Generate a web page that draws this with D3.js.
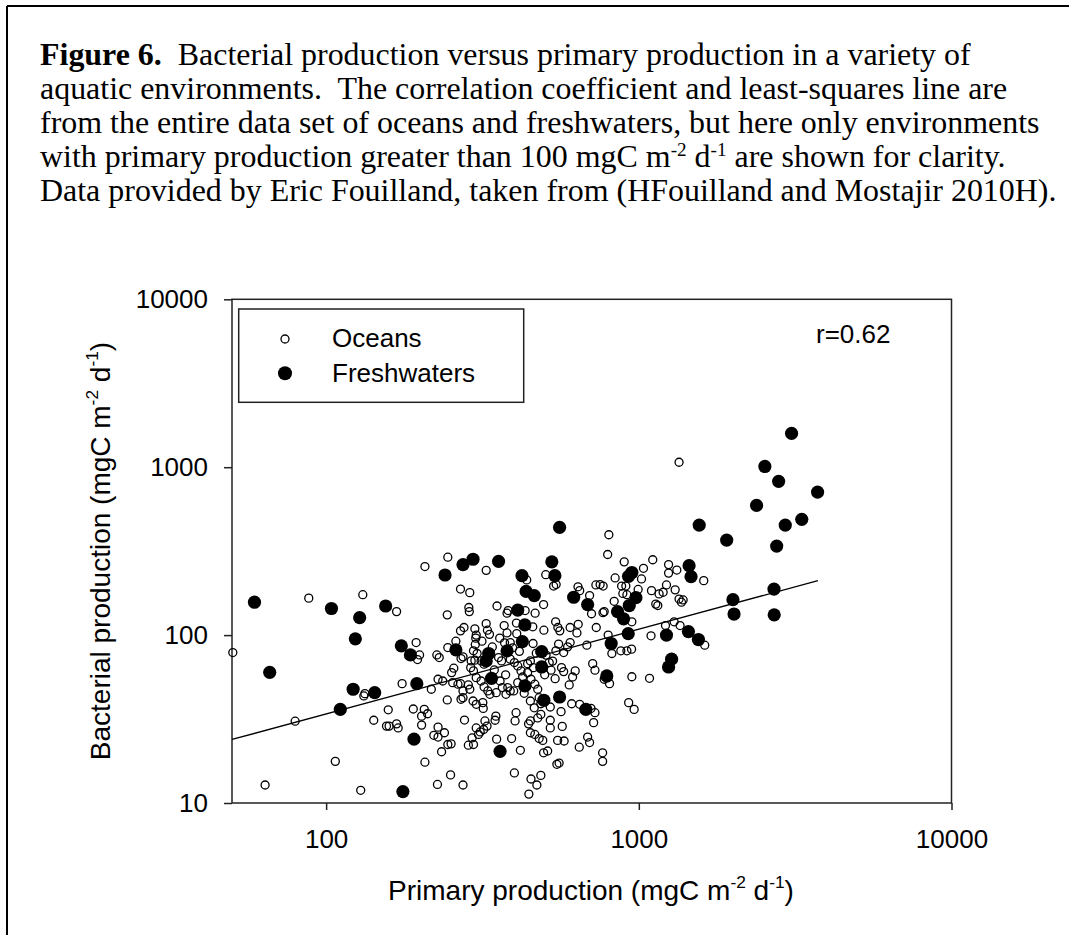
<!DOCTYPE html>
<html><head><meta charset="utf-8">
<script src="https://cdn.jsdelivr.net/npm/d3@7"></script>
<style>body{margin:0;background:#fff}</style>
</head><body>
<svg id="c" width="1069" height="935" xmlns="http://www.w3.org/2000/svg"></svg>
<script>
// ---------- DATA ----------
const xTicks = [100, 1000, 10000];
const yTicks = [10, 100, 1000, 10000];
const xDomain = [50, 10000];
const yDomain = [10, 10000];
const seriesNames = ["Oceans", "Freshwaters"];
const rText = "r=0.62";
// least-squares line end points (primary production, bacterial production)
const fitPP = [50, 3740];
const fitBP = [23.9, 211];

// Oceans: primary production (mgC m-2 d-1)
const oceansPP = [50.3,88,131,132,133,79.6,142,107,63.8,129,227,274,445,472,452,486,250,
207,245,325,269,288,504,438,534,544,802,795,898,1035,1108,1245,1245,840,1020,639,647,696,729,752,769,881,909,889,916,995,1098,1161,1196,1226,834,
168,244,286,287,352,379,382,433,466,496,706,768,775,950,1133,1150,798,1094,1217,731,682,640,603,634,542,551,559,497,458,406,371,379,407,325,328,333,299,302,301,276,269,359,388,459,554,603,592,543,575,876,916,948,820,
194,199,196,226,230,245,270,274,296,304,291,299,313,320,356,364,388,400,410,420,441,450,517,524,566,575,626,614,599,712,724,775,806,950,1082,
256,252,228,236,254,264,269,274,285,288,296,302,313,320,329,334,360,366,381,388,398,410,425,441,452,465,475,175,217,244,270,274,295,302,317,318,350,376,450,463,480,486,521,564,610,647,703,724,717,928,966,
158,156,159,168,170,190,202,206,211,202,228,221,228,239,245,251,234,207,277,302,311,319,307,322,327,349,347,285,296,293,351,392,405,402,444,450,475,486,465,480,493,450,521,521,569,550,577,418,496,511,547,556,645,686,696,766,766,400,
1345,1323,1613,1307,1345,1386,1369,1297,1355,1625,
300,315,340,372,395,415,470,505,530,345,375,460,500,540,430,290,260];
// Oceans: bacterial production (mgC m-2 d-1)
const oceansBP = [78.7,166,174,43.4,44.8,30.7,31.1,17.7,12.8,11.9,12.9,12.8,11.3,12.8,13.9,14.6,14.7,
256,291,243,188,179,229,213,196,200,396,302,273,250,281,263,234,219,216,194,184,172,199,200,196,196,196,177,174,187,184,176,180,199,159,
138,132,146,138,149,135,140,140,135,152,134,136,138,120,153,150,100,99,114,111,87.1,116,111,103,120,111,106,107,112,118,114,103,102,117,107,101,109,100,95.9,111,106,95.9,90.3,89.1,88.4,90.3,85.1,80.6,78.7,80.6,80.6,82.5,77.7,
90.3,76.2,71.5,76.2,73.5,84.3,72.5,74.2,80.6,77.7,70.2,70.9,70.2,67.1,73.5,70.2,71.9,68.6,65.5,61.2,67.6,70.2,68.6,61.8,64,60.6,61.2,56.3,50.5,67.6,61.8,54.6,51.4,56.5,55.3,
63.5,59.8,54.6,53.3,52.1,51,51.4,46.5,50.5,47.6,61.2,55.8,53.3,49.1,46.5,44.4,53.3,48.7,48.7,46.5,46.5,52.1,56.3,59.8,54.6,51,47.6,51.4,47.6,41.1,41.5,42.4,40.5,38.7,39.6,36.6,45.4,44.4,40.5,36.9,42.4,39,37.3,35,39,38.7,36.6,34.5,30.1,39.6,36.1,
35.9,28.7,28.7,29.6,28,36.3,32.9,36.1,34,29.1,28.3,25.3,24.7,26.2,22.3,22.5,20.2,17.5,31.2,28,26.5,27.4,25.6,30.8,28.7,32.9,31.1,22.1,22.3,24.4,24,24.2,34.5,30.8,29.6,30.8,32.1,33.7,25.6,24.2,23.6,26.2,31.1,28,28.6,23.6,23.4,20.6,19.9,20.4,17,17.3,21.5,24.7,22.9,19.9,17.7,15.1,
1070,244,211,186,164,162,157,120,114,87.1,
88,92,85,90,84,80,78,76,70,62,58,64,58,55,45,64,92];

// Freshwaters
const freshPP = [59,66,104,128,124,122,143,111,176,558,240,274,295,356,527,423,539,950,927,436,463,619,979,686,932,855,894,410,432,424,379,331,325,489,489,338,260,174,186,195,432,497,558,677,790,816,925,1226,1245,191,360,155,
3080,2530,2800,3730,2380,3320,2940,1560,1910,2760,1448,1469,2706,2000,2016,2710,1441,1551,1273];
const freshBP = [157,60,144,127,95,47.6,45.4,36.1,11.7,438,228,263,283,275,273,226,226,236,224,182,172,168,167,152,150,138,125,141,115,91.5,80.6,77.7,70.2,79.8,64.6,55.3,81.7,86.3,76.2,51.4,49.8,40.9,42.8,36.1,57.1,89.1,102,100,64.6,24,20.3,149,
1590,1010,824,711,592,489,452,452,368,339,259,223,188,162.5,133.5,132,105,94.1,71.9];

// ---------- DRAW ----------
const svg = d3.select("#c");
svg.append("rect").attr("width",1069).attr("height",935).attr("fill","#fff");

// outer frame (top and left visible)
svg.append("line").attr("x1",7).attr("y1",6).attr("x2",1069).attr("y2",6).attr("stroke","#000").attr("stroke-width",2);
svg.append("line").attr("x1",7).attr("y1",6).attr("x2",7).attr("y2",935).attr("stroke","#000").attr("stroke-width",2);

// caption
const serif = "'Liberation Serif','Times New Roman',serif";
const sans = "'Liberation Sans',Arial,Helvetica,sans-serif";
const cap = svg.append("g").attr("font-family", serif).attr("fill","#000");
const capX = 40, capY0 = 65, capDY = 34;
function capLine(i, parts){
  const t = cap.append("text").attr("x",capX).attr("y",capY0+i*capDY)
    .attr("xml:space","preserve").style("white-space","pre");
  parts.forEach(p=>{
    const ts = t.append("tspan").text(p.t);
    if(p.b) ts.attr("font-weight","bold");
    if(p.sup){ ts.attr("font-size","0.6em").attr("dy","-0.55em"); }
    if(p.down){ ts.attr("dy","0.33em"); }
  });
  return t;
}
const l1 = capLine(0,[{t:"Figure 6.",b:true},{t:"  Bacterial production versus primary production in a variety of"}]);
const l2 = capLine(1,[{t:"aquatic environments.  The correlation coefficient and least-squares line are"}]);
const l3 = capLine(2,[{t:"from the entire data set of oceans and freshwaters, but here only environments"}]);
const l4 = capLine(3,[{t:"with primary production greater than 100 mgC m"},{t:"-2",sup:true},{t:" d",down:true},{t:"-1",sup:true},{t:" are shown for clarity.",down:true}]);
const l5 = capLine(4,[{t:"Data provided by Eric Fouilland, taken from (HFouilland and Mostajir 2010H)."}]);
cap.attr("font-size",28);
const w3 = l3.node().getComputedTextLength();
cap.attr("font-size", 28*1000/w3);

// scales
const x = d3.scaleLog().domain(xDomain).range([232, 951.5]);
const y = d3.scaleLog().domain(yDomain).range([803, 299.3]);

// axes
const ax = svg.append("g").attr("transform","translate(0,803)")
  .call(d3.axisBottom(x).tickValues(xTicks).tickFormat(d3.format("d")).tickSize(7).tickSizeOuter(0).tickPadding(19.5));
const ay = svg.append("g").attr("transform","translate(232,0)")
  .call(d3.axisLeft(y).tickValues(yTicks).tickFormat(d3.format("d")).tickSize(8).tickSizeOuter(0).tickPadding(16));
[ax,ay].forEach(a=>{
  a.select(".domain").remove();
  a.selectAll("text").attr("font-family",sans).attr("font-size",26).attr("fill","#000");
  a.selectAll("line").attr("stroke","#222").attr("stroke-width",1.5);
});

// frame
svg.append("rect").attr("x",232).attr("y",299.3).attr("width",951.5-232).attr("height",803-299.3)
  .attr("fill","none").attr("stroke","#222").attr("stroke-width",1.5);

// fit line
svg.append("line").attr("x1",x(fitPP[0])).attr("y1",y(fitBP[0])).attr("x2",x(fitPP[1])).attr("y2",y(fitBP[1]))
  .attr("stroke","#000").attr("stroke-width",1.3);

// points
const oceans = oceansPP.map((v,i)=>({pp:v,bp:oceansBP[i]}));
const fresh = freshPP.map((v,i)=>({pp:v,bp:freshBP[i]}));
svg.append("g").selectAll("circle").data(oceans).join("circle")
  .attr("cx",d=>x(d.pp)).attr("cy",d=>y(d.bp)).attr("r",4)
  .attr("fill","none").attr("stroke","#000").attr("stroke-width",1.3);
svg.append("g").selectAll("circle").data(fresh).join("circle")
  .attr("cx",d=>x(d.pp)).attr("cy",d=>y(d.bp)).attr("r",6.6)
  .attr("fill","#000");

// legend
const lg = svg.append("g");
lg.append("rect").attr("x",238.7).attr("y",309).attr("width",285).attr("height",93.3)
  .attr("fill","#fff").attr("stroke","#222").attr("stroke-width",1.5);
lg.append("circle").attr("cx",285).attr("cy",339).attr("r",4).attr("fill","none").attr("stroke","#000").attr("stroke-width",1.3);
lg.append("circle").attr("cx",285).attr("cy",373.3).attr("r",7).attr("fill","#000");
lg.append("text").attr("x",332).attr("y",347).text(seriesNames[0]).attr("font-family",sans).attr("font-size",26);
lg.append("text").attr("x",332).attr("y",382).text(seriesNames[1]).attr("font-family",sans).attr("font-size",26);

// r text
svg.append("text").attr("x",816).attr("y",343).text(rText).attr("font-family",sans).attr("font-size",26);

// axis titles
function supLabel(t, parts){
  parts.forEach(p=>{
    const ts=t.append("tspan").text(p.t);
    if(p.sup) ts.attr("font-size","0.62em").attr("dy","-0.7em");
    if(p.down) ts.attr("dy","0.434em");
  });
}
const xl = svg.append("text").attr("x",591).attr("y",900).attr("text-anchor","middle")
  .attr("font-family",sans).attr("font-size",28).attr("xml:space","preserve").style("white-space","pre");
supLabel(xl,[{t:"Primary production (mgC m"},{t:"-2",sup:true},{t:" d",down:true},{t:"-1",sup:true},{t:")",down:true}]);
const yl = svg.append("text").attr("transform","translate(110,551) rotate(-90)").attr("text-anchor","middle")
  .attr("font-family",sans).attr("font-size",28).attr("xml:space","preserve").style("white-space","pre");
supLabel(yl,[{t:"Bacterial production (mgC m"},{t:"-2",sup:true},{t:" d",down:true},{t:"-1",sup:true},{t:")",down:true}]);
</script>
</body></html>
